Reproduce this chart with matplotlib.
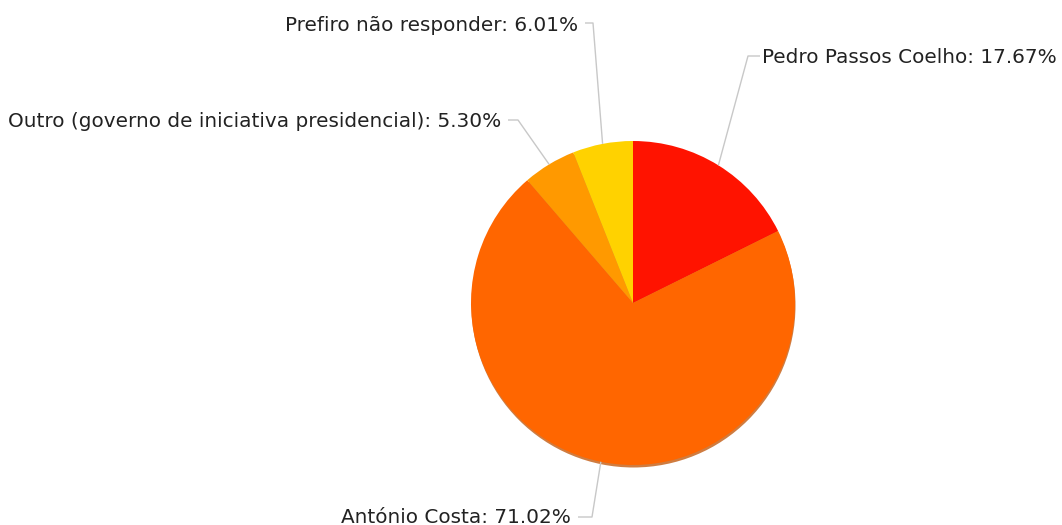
import matplotlib
matplotlib.use("Agg")
import matplotlib.pyplot as plt
import numpy as np
from matplotlib.patches import Circle

labels = ["Pedro Passos Coelho", "António Costa", "Outro (governo de iniciativa presidencial)", "Prefiro não responder"]
values = [17.67, 71.02, 5.30, 6.01]
colors = ["#ff1300", "#ff6600", "#ff9900", "#ffd200"]

W, H = 1062, 525
fig = plt.figure(figsize=(W / 100, H / 100), dpi=100)
ax = fig.add_axes([0, 0, 1, 1])

cx, cy, R = 633, H - 303, 162

# subtle shadow
ax.add_patch(Circle((cx + 0.5, cy - 2.5), R, color="#c05000", alpha=0.75, lw=0, zorder=0))

wedges, _ = ax.pie(values, colors=colors, startangle=90, counterclock=False,
                   center=(cx, cy), radius=R, wedgeprops=dict(linewidth=0))
for w in wedges:
    w.set_zorder(1)

ax.set_xlim(0, W)
ax.set_ylim(0, H)
ax.set_aspect("equal")
ax.axis("off")

# label layout: (elbow_x, elbow_y, text_x, baseline_y, ha)
layout = [
    (748, 56, 762, 63, "left"),
    (592, 517, 571, 523, "right"),
    (518, 120, 501, 127, "right"),
    (593, 23, 578, 31, "right"),
]
for w, lab, val, (ex, ey, tx, ty, ha) in zip(wedges, labels, values, layout):
    mid = np.deg2rad((w.theta1 + w.theta2) / 2)
    px, py = cx + R * np.cos(mid), cy + R * np.sin(mid)
    hx = tx - 2 if ha == "left" else tx + 7
    ax.plot([px, ex, hx], [py, H - ey, H - ey], color="#c8c8c8", lw=1, zorder=2,
            solid_capstyle="butt")
    ax.text(tx, H - ty, f"{lab}: {val:.2f}%", ha=ha, va="baseline",
            fontsize=14.4, color="#222222", family="DejaVu Sans")

fig.savefig("out.png", dpi=100)
